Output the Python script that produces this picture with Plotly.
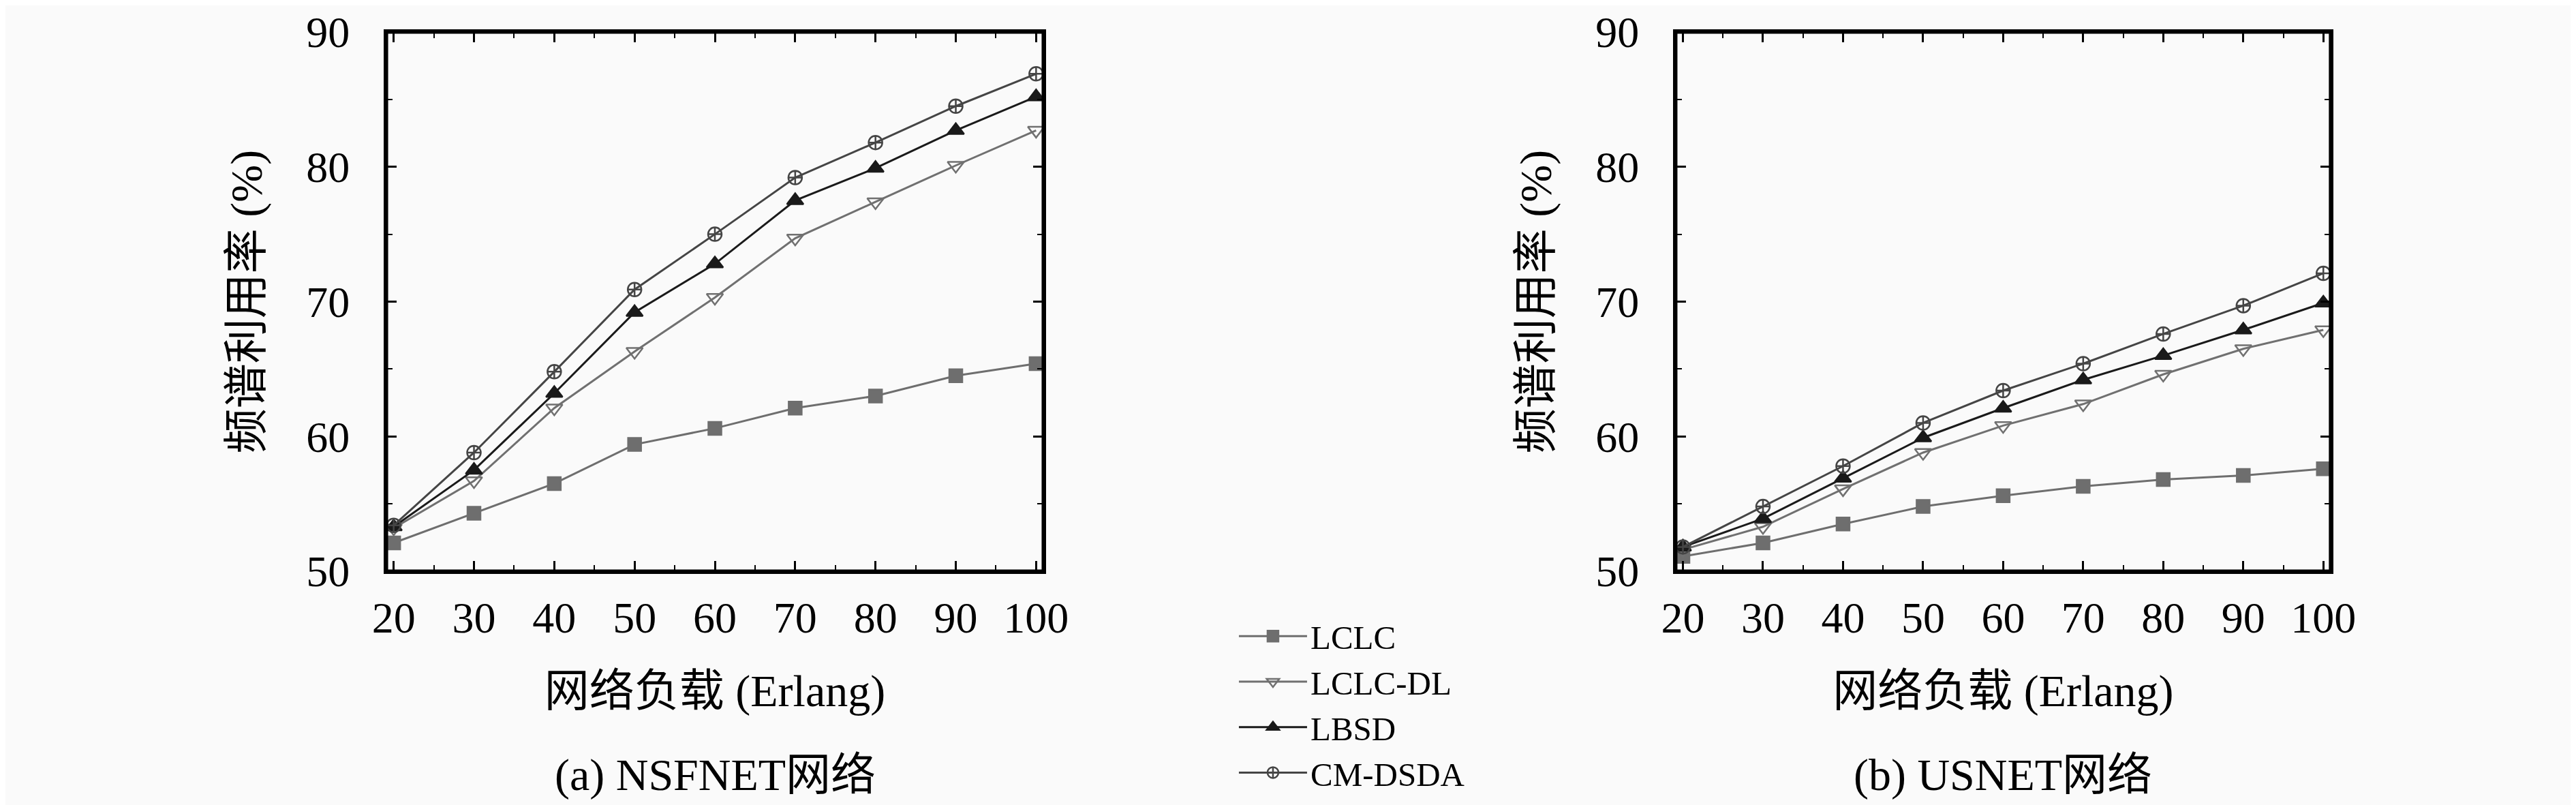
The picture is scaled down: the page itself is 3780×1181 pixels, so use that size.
import plotly.graph_objects as go

# traffic load (Erlang)
loads = [20, 30, 40, 50, 60, 70, 80, 90, 100]

# (a) NSFNET, spectrum utilisation (%)
nsf_lclc = [52.1, 54.3, 56.5, 59.4, 60.6, 62.1, 63.0, 64.5, 65.4]
nsf_lclc_dl = [53.2, 56.7, 62.1, 66.3, 70.3, 74.7, 77.4, 80.1, 82.7]
nsf_lbsd = [53.3, 57.5, 63.2, 69.2, 72.8, 77.5, 79.9, 82.7, 85.2]
nsf_cm_dsda = [53.4, 58.8, 64.8, 70.9, 75.0, 79.2, 81.8, 84.5, 86.9]

# (b) USNET
us_lclc = [51.1, 52.1, 53.5, 54.8, 55.6, 56.3, 56.8, 57.1, 57.6]
us_lclc_dl = [51.6, 53.3, 56.1, 58.8, 60.8, 62.4, 64.6, 66.5, 67.9]
us_lbsd = [51.8, 53.9, 56.9, 59.9, 62.1, 64.2, 66.0, 67.9, 69.9]
us_cm_dsda = [51.8, 54.8, 57.8, 61.0, 63.4, 65.4, 67.6, 69.7, 72.1]

x_ticks = [20, 30, 40, 50, 60, 70, 80, 90, 100]
y_ticks = [50, 60, 70, 80, 90]

names = ["LCLC", "LCLC-DL", "LBSD", "CM-DSDA"]
captions = ["(a) NSFNET网络", "(b) USNET网络"]
x_title = "网络负载 (Erlang)"
y_title = "频谱利用率 (%)"

FONT = "Liberation Serif, Noto Sans CJK SC, serif"

styles = [
    dict(color="#6e6e6e", symbol="square", size=19),
    dict(color="#707070", symbol="triangle-down-open", size=21),
    dict(color="#1a1a1a", symbol="triangle-up", size=21),
    dict(color="#454545", symbol="circle-cross-open", size=20),
]

panels = [
    [nsf_lclc, nsf_lclc_dl, nsf_lbsd, nsf_cm_dsda],
    [us_lclc, us_lclc_dl, us_lbsd, us_cm_dsda],
]

fig = go.Figure()

for p, series in enumerate(panels):
    xa = "x" if p == 0 else "x2"
    ya = "y" if p == 0 else "y2"
    for name, ys, st in zip(names, series, styles):
        fig.add_trace(go.Scatter(
            x=loads, y=ys, name=name, mode="lines+markers",
            xaxis=xa, yaxis=ya,
            line=dict(color=st["color"], width=3),
            marker=dict(symbol=st["symbol"], size=st["size"],
                        color=st["color"],
                        line=dict(color=st["color"], width=2.5)),
            showlegend=(p == 0), cliponaxis=False,
        ))

minor_ticks = dict(dtick=5, ticklen=9, tickwidth=2, tickcolor="black",
                   ticks="inside")

axis_common = dict(
    showline=True, linecolor="black", linewidth=4, mirror="allticks",
    ticks="inside", ticklen=15, tickwidth=2.5, tickcolor="black",
    showgrid=False, zeroline=False, automargin=False,
    ticklabeloverflow="allow", minor=minor_ticks,
    tickfont=dict(family=FONT, size=64, color="black"),
    title_font=dict(family=FONT, size=66, color="black"),
)

x_domains = [[0.1479, 0.4029], [0.6484, 0.9026]]
y_domain = [0.2972, 0.967]

layout = {}
for p, dom in enumerate(x_domains):
    sx = "" if p == 0 else "2"
    layout["xaxis" + sx] = dict(
        domain=dom, range=[19.1, 100.9], tickvals=x_ticks,
        anchor="y" + sx, ticklabelstandoff=9,
        title=dict(text=x_title, standoff=50), **axis_common)
    layout["yaxis" + sx] = dict(
        domain=y_domain, range=[50, 90], tickvals=y_ticks,
        anchor="x" + sx, ticklabelstandoff=37,
        title=dict(text=y_title, standoff=44), **axis_common)
    # top tick marks (mirror of the bottom axis)
    layout["xaxis" + str(p + 3)] = dict(
        overlaying="x" + sx, anchor="y" + sx, side="top",
        range=[19.1, 100.9], tickvals=x_ticks, showticklabels=False,
        ticks="inside", ticklen=15, tickwidth=2.5, tickcolor="black",
        minor=minor_ticks, showgrid=False, zeroline=False,
        showline=True, linecolor="black", linewidth=4, automargin=False)

fig.update_layout(**layout)

for p, (dom, cap) in enumerate(zip(x_domains, captions)):
    sx = "" if p == 0 else "2"
    fig.add_shape(type="rect", xref="x" + sx + " domain",
                  yref="y" + sx + " domain", x0=0, x1=1, y0=0, y1=1,
                  line=dict(color="black", width=5), layer="above")
    fig.add_annotation(
        text=cap, x=(dom[0] + dom[1]) / 2, y=0.044,
        xref="paper", yref="paper", xanchor="center", yanchor="middle",
        showarrow=False, font=dict(family=FONT, size=66, color="black"))

fig.update_layout(
    template="none",
    width=3780, height=1181,
    margin=dict(l=0, r=0, t=0, b=0, pad=0, autoexpand=False),
    paper_bgcolor="#fafafa", plot_bgcolor="#fafafa",
    font=dict(family=FONT, color="black"),
    legend=dict(
        x=0.4775, y=0.249, xanchor="left", yanchor="top",
        font=dict(family=FONT, size=49, color="black"),
        bgcolor="rgba(0,0,0,0)", borderwidth=0,
        tracegroupgap=0, itemwidth=100,
    ),
)

fig.write_html("out.html")
